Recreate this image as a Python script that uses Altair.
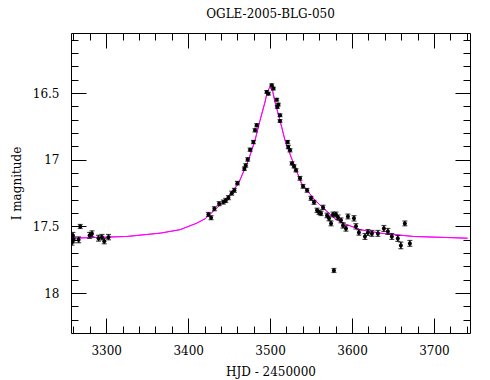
import altair as alt
import pandas as pd

# Observed photometry (HJD-2450000, I mag, error)
hjd = [3258.2, 3259.4, 3260.2, 3266.3, 3268.3, 3279.7, 3282.6, 3290.6, 3294.8, 3297.6, 3302.8,
       3424.7, 3428.0, 3432.0, 3437.8, 3443.0, 3445.9, 3449.1, 3453.2, 3456.4, 3460.1,
       3468.6, 3470.3, 3472.7, 3475.6, 3479.6, 3481.6, 3483.7,
       3495.9, 3497.9, 3502.0, 3504.0, 3508.1, 3508.8, 3510.0, 3512.1, 3512.1,
       3521.5, 3522.2, 3524.3, 3526.7, 3529.2, 3531.6, 3536.5, 3540.2, 3545.1, 3549.9,
       3553.6, 3557.3, 3559.7, 3562.1, 3564.6, 3569.5, 3571.9, 3574.4, 3576.8, 3580.4,
       3582.9, 3586.5, 3589.0, 3592.6, 3595.0, 3602.4, 3604.8, 3608.4, 3615.8, 3619.4,
       3624.3, 3631.6, 3638.9, 3643.8, 3648.6, 3655.9, 3659.6, 3664.5, 3670.6, 3577.9]
mag = [17.619, 17.568, 17.601, 17.601, 17.501, 17.568, 17.556, 17.589, 17.581, 17.611, 17.581,
       17.411, 17.435, 17.368, 17.330, 17.318, 17.306, 17.285, 17.251, 17.230, 17.176,
       17.068, 17.043, 16.998, 16.925, 16.868, 16.780, 16.742,
       16.492, 16.505, 16.442, 16.467, 16.550, 16.605, 16.587, 16.667, 16.710,
       16.868, 16.905, 16.930, 17.028, 17.050, 17.080, 17.140, 17.200, 17.230, 17.290,
       17.320, 17.380, 17.395, 17.403, 17.358, 17.418, 17.440, 17.478, 17.411, 17.411,
       17.433, 17.455, 17.493, 17.516, 17.426, 17.440, 17.500, 17.546, 17.576, 17.546,
       17.553, 17.553, 17.516, 17.538, 17.576, 17.591, 17.643, 17.478, 17.628, 17.831]
err = [0.022, 0.022, 0.022, 0.022, 0.015, 0.022, 0.022, 0.022, 0.020, 0.020, 0.020,
       0.015, 0.015, 0.015, 0.015, 0.015, 0.015, 0.015, 0.015, 0.015, 0.013,
       0.013, 0.013, 0.013, 0.012, 0.012, 0.012, 0.012,
       0.010, 0.010, 0.010, 0.010, 0.010, 0.010, 0.010, 0.010, 0.010,
       0.012, 0.012, 0.012, 0.012, 0.012, 0.012, 0.014, 0.014, 0.014, 0.015,
       0.015, 0.016, 0.016, 0.016, 0.016, 0.017, 0.018, 0.018, 0.018, 0.018,
       0.018, 0.018, 0.020, 0.020, 0.018, 0.020, 0.020, 0.020, 0.022, 0.022,
       0.022, 0.022, 0.022, 0.022, 0.022, 0.022, 0.025, 0.018, 0.022, 0.015]

# Model light curve
model_t = [3259.0, 3325.3, 3365.9, 3390.2, 3410.6, 3420.7, 3445.1, 3461.3, 3473.5, 3481.6,
           3487.7, 3493.8, 3496.6, 3499.9, 3503.3, 3506.0, 3512.1, 3518.2, 3526.4, 3538.5,
           3555.0, 3579.0, 3589.0, 3610.0, 3634.0, 3675.0, 3741.0]
model_m = [17.589, 17.576, 17.551, 17.525, 17.476, 17.443, 17.306, 17.180, 17.005, 16.855,
           16.706, 16.568, 16.490, 16.455, 16.490, 16.568, 16.706, 16.855, 16.993, 17.180,
           17.306, 17.443, 17.476, 17.525, 17.551, 17.576, 17.589]

x_major = [3300, 3400, 3500, 3600, 3700]
x_minor = list(range(3260, 3745, 20))
y_major = [16.5, 17, 17.5, 18]
y_minor = [round(16.1 + 0.1 * i, 1) for i in range(22)]

obs = pd.DataFrame({"hjd": hjd, "mag": mag, "err": err})
obs["lo"] = obs["mag"] - obs["err"]
obs["hi"] = obs["mag"] + obs["err"]
model = pd.DataFrame({"hjd": model_t, "mag": model_m})

FONT = "DejaVu Serif"
xs = alt.Scale(domain=[3257, 3744], nice=False, zero=False)
ys = alt.Scale(domain=[16.05, 18.30], reverse=True, nice=False, zero=False)

MAJ, MIN = 15, 7

def ax(orient, values, size, labels=False, title=None, fmt=None, pad=10, tpad=4):
    kw = dict(orient=orient, values=values, tickSize=size, offset=-size, domain=False,
              grid=False, tickColor="black", tickWidth=1, labels=labels, title=title)
    if labels:
        kw.update(labelFont=FONT, labelFontSize=12, labelColor="black", labelPadding=pad,
                  labelFlush=False, labelOverlap=False)
    if fmt:
        kw["format"] = fmt
    if title:
        kw.update(titleFont=FONT, titleFontSize=12, titleFontWeight="normal",
                  titleColor="black", titlePadding=tpad)
    return alt.Axis(**kw)

def frame(orient):
    return alt.Axis(orient=orient, domain=True, domainColor="black", domainWidth=1,
                    ticks=False, labels=False, grid=False, title=None)

curve = alt.Chart(model).mark_line(color="#ff00ff", strokeWidth=1, clip=True).encode(
    x=alt.X("hjd:Q", scale=xs, axis=ax("bottom", x_major, MAJ, True, "HJD - 2450000", "d", 12, 10)),
    y=alt.Y("mag:Q", scale=ys, axis=ax("left", y_major, MAJ, True, "I magnitude", "~g", 12, 9)),
)
bars = alt.Chart(obs).mark_rule(color="black", strokeWidth=1.5, clip=True).encode(
    x=alt.X("hjd:Q", scale=xs, axis=ax("bottom", x_minor, MIN)),
    y=alt.Y("lo:Q", scale=ys, axis=ax("left", y_minor, MIN)),
    y2="hi:Q",
)
cap_lo = alt.Chart(obs).mark_tick(color="black", orient="horizontal", size=5, thickness=1.2, clip=True).encode(
    x=alt.X("hjd:Q", scale=xs, axis=ax("top", x_major, MAJ)),
    y=alt.Y("lo:Q", scale=ys, axis=ax("right", y_major, MAJ)),
)
cap_hi = alt.Chart(obs).mark_tick(color="black", orient="horizontal", size=5, thickness=1.2, clip=True).encode(
    x=alt.X("hjd:Q", scale=xs, axis=ax("top", x_minor, MIN)),
    y=alt.Y("hi:Q", scale=ys, axis=ax("right", y_minor, MIN)),
)
pts = alt.Chart(obs).mark_circle(color="black", size=16, opacity=1, clip=True).encode(
    x=alt.X("hjd:Q", scale=xs, axis=frame("bottom")),
    y=alt.Y("mag:Q", scale=ys, axis=frame("left")),
)
curve2 = alt.Chart(model).mark_line(color="#ff00ff", strokeWidth=1, clip=True).encode(
    x=alt.X("hjd:Q", scale=xs, axis=frame("top")),
    y=alt.Y("mag:Q", scale=ys, axis=frame("right")),
)

chart = alt.layer(curve, curve2, bars, cap_lo, cap_hi, pts).resolve_axis(
    x="independent", y="independent"
).properties(
    width=399, height=300,
    title=alt.Title("OGLE-2005-BLG-050", font=FONT, fontSize=12, fontWeight="normal",
                    color="black", offset=12),
    autosize=alt.AutoSizeParams(type="none"),
    padding={"left": 63, "top": 25, "right": 10, "bottom": 50},
).configure_view(stroke=None).configure(background="white")

chart.save("out.html", embed_options={"renderer": "svg", "actions": False})
